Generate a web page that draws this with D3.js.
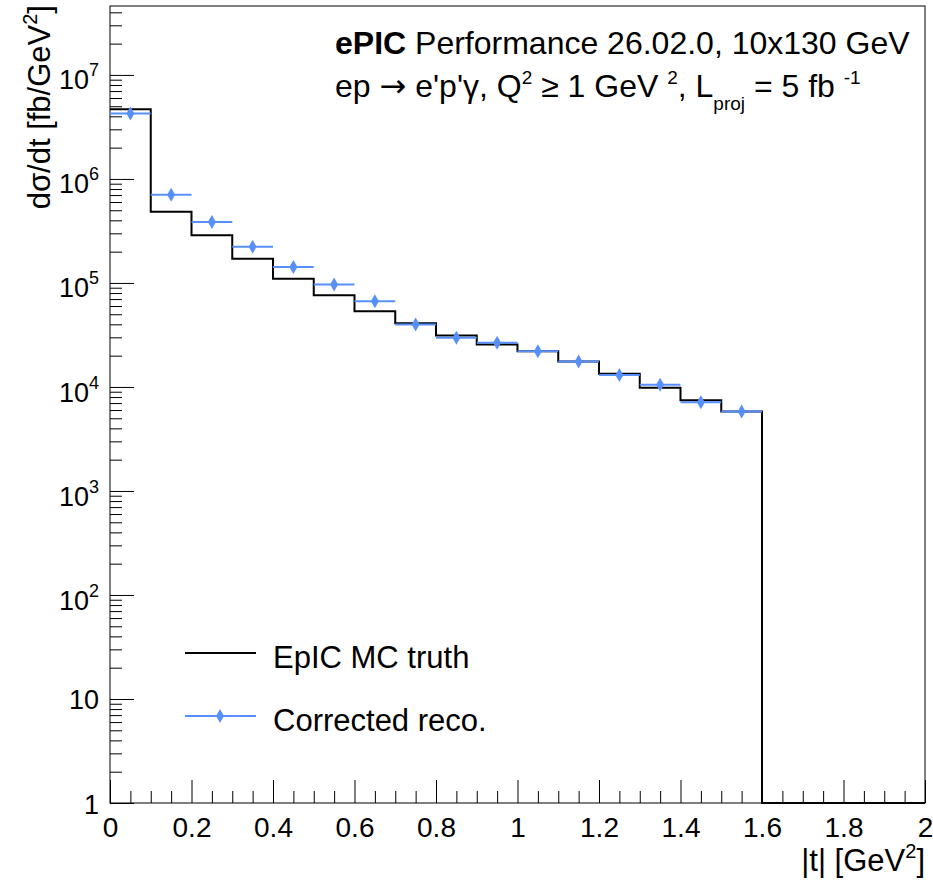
<!DOCTYPE html>
<html>
<head>
<meta charset="utf-8">
<script src="https://cdn.jsdelivr.net/npm/d3@7"></script>
<style>
  body { margin: 0; background: #fff; }
  svg { display: block; font-family: "Liberation Sans", Arial, sans-serif; }
</style>
</head>
<body>
<svg id="chart" width="933" height="882"></svg>
<script>
// bin edges in |t| (GeV^2)
const binEdges = [0, 0.1, 0.2, 0.3, 0.4, 0.5, 0.6, 0.7, 0.8, 0.9, 1.0, 1.1, 1.2, 1.3, 1.4, 1.5, 1.6];
// EpIC MC truth, dsigma/dt [fb/GeV^2]
const truthValues = [4.68e6, 4.84e5, 2.87e5, 1.71e5, 1.10e5, 7.6e4, 5.35e4, 4.1e4, 3.12e4, 2.56e4, 2.21e4, 1.76e4, 1.34e4, 9.8e3, 7.45e3, 5.8e3];
// corrected reco
const recoValues = [4.25e6, 7.06e5, 3.85e5, 2.23e5, 1.42e5, 9.67e4, 6.68e4, 3.98e4, 2.97e4, 2.66e4, 2.21e4, 1.76e4, 1.30e4, 1.05e4, 7.13e3, 5.8e3];

const xMajorTicks = [0, 0.2, 0.4, 0.6, 0.8, 1, 1.2, 1.4, 1.6, 1.8, 2];
const xMinorTicks = [0.05, 0.1, 0.15, 0.25, 0.3, 0.35, 0.45, 0.5, 0.55, 0.65, 0.7, 0.75, 0.85, 0.9, 0.95,
                     1.05, 1.1, 1.15, 1.25, 1.3, 1.35, 1.45, 1.5, 1.55, 1.65, 1.7, 1.75, 1.85, 1.9, 1.95];
const yMajorTicks = [1, 10, 1e2, 1e3, 1e4, 1e5, 1e6, 1e7];
const yMinorMultipliers = [2, 3, 4, 5, 6, 7, 8, 9];

const blue = "#5790fc";
const frameL = 110, frameR = 925, frameT = 6, frameB = 803;
const textSize = 31;

const svg = d3.select("#chart");

const x = d3.scaleLinear().domain([0, 2]).range([frameL, frameR]);
const y = d3.scaleLog().domain([1, 4.6e7]).range([frameB, frameT]);

// minor y ticks inside the domain
const yMinorTicks = [];
yMajorTicks.forEach(p => yMinorMultipliers.forEach(m => {
    if (p * m <= y.domain()[1]) yMinorTicks.push(p * m);
}));

// frame
svg.append("rect")
    .attr("x", frameL).attr("y", frameT)
    .attr("width", frameR - frameL).attr("height", frameB - frameT)
    .attr("fill", "none").attr("stroke", "#000").attr("stroke-width", 1);

// x axis, ticks point into the frame
const xMinor = svg.append("g").attr("transform", `translate(0,${frameB})`)
    .call(d3.axisBottom(x).tickValues(xMinorTicks).tickSizeInner(-12).tickSizeOuter(0).tickFormat(""));
const xMajor = svg.append("g").attr("transform", `translate(0,${frameB})`)
    .call(d3.axisBottom(x).tickValues(xMajorTicks).tickSizeInner(-23).tickSizeOuter(0)
        .tickPadding(14).tickFormat(d => d3.format("~g")(d)));

// y axis
const yMinor = svg.append("g").attr("transform", `translate(${frameL},0)`)
    .call(d3.axisLeft(y).tickValues(yMinorTicks).tickSizeInner(-12).tickSizeOuter(0).tickFormat(""));
const yMajor = svg.append("g").attr("transform", `translate(${frameL},0)`)
    .call(d3.axisLeft(y).tickValues(yMajorTicks).tickSizeInner(-24).tickSizeOuter(0)
        .tickPadding(11).tickFormat(""));

[xMinor, xMajor, yMinor, yMajor].forEach(g => {
    g.select(".domain").remove();
    g.selectAll(".tick line").attr("stroke", "#000").attr("stroke-width", 1);
});
xMajor.selectAll(".tick text").attr("font-size", 28).attr("fill", "#000")
    .attr("font-family", "Liberation Sans, Arial, sans-serif");

// y labels with exponents
yMajor.selectAll(".tick text").each(function(d) {
    const t = d3.select(this).attr("font-size", 27).attr("fill", "#000")
        .attr("font-family", "Liberation Sans, Arial, sans-serif");
    const p = Math.round(Math.log10(d));
    if (p < 2) {
        t.attr("dy", "0.37em").text(p === 0 ? "1" : "10");
    } else {
        t.attr("dy", "0.52em");
        t.append("tspan").text("10");
        t.append("tspan").attr("font-size", 18).attr("dy", -13).text(p);
    }
});

// truth histogram (steps), empty bins beyond 1.6 sit on the frame
let path = `M${x(binEdges[0])},${y(truthValues[0])}`;
truthValues.forEach((v, i) => {
    path += `V${y(v)}H${x(binEdges[i + 1])}`;
});
path += `V${frameB}H${x(2)}`;
svg.append("path").attr("d", path)
    .attr("fill", "none").attr("stroke", "#000").attr("stroke-width", 2);

// corrected reco: bin width bars and diamonds
const reco = svg.append("g");
recoValues.forEach((v, i) => {
    const x0 = x(binEdges[i]), x1 = x(binEdges[i + 1]), yc = y(v);
    const xc = (x0 + x1) / 2;
    reco.append("line").attr("x1", x0).attr("x2", x1).attr("y1", yc).attr("y2", yc)
        .attr("stroke", blue).attr("stroke-width", 2);
    reco.append("path")
        .attr("d", `M${xc},${yc - 7}L${xc + 4},${yc}L${xc},${yc + 7}L${xc - 4},${yc}Z`)
        .attr("fill", blue);
});

// axis titles
const yt = svg.append("text")
    .attr("transform", `translate(50,${frameT - 1}) rotate(-90)`)
    .attr("text-anchor", "end").attr("font-size", textSize);
yt.append("tspan").text("dσ/dt [fb/GeV");
yt.append("tspan").attr("font-size", 20).attr("dy", -13).text("2");
yt.append("tspan").attr("dy", 13).text("]");

const xt = svg.append("text")
    .attr("x", frameR).attr("y", 871)
    .attr("text-anchor", "end").attr("font-size", textSize);
xt.append("tspan").text("|t| [GeV");
xt.append("tspan").attr("font-size", 20).attr("dy", -13).text("2");
xt.append("tspan").attr("dy", 13).text("]");

// header text
const headSize = 32;
const h1 = svg.append("text").attr("x", 335).attr("y", 54).attr("font-size", headSize);
h1.append("tspan").attr("font-weight", "bold").text("ePIC");
h1.append("tspan").text(" Performance 26.02.0, 10x130 GeV");

function richText(sel, pieces) {
    let shift = 0;
    pieces.forEach(p => {
        const target = p.sup ? -13 : p.sub ? 13 : 0;
        const ts = sel.append("tspan")
            .attr("font-size", p.sup || p.sub ? 19 : null)
            .attr("dy", target - shift)
            .text(p.t);
        if (p.font) ts.attr("font-family", p.font);
        shift = target;
    });
}
const h2 = svg.append("text").attr("x", 335).attr("y", 97).attr("font-size", headSize);
richText(h2, [
    {t: "ep "}, {t: "\u2192", font: "DejaVu Sans"}, {t: " e'p'\u03b3, Q"}, {t: "2", sup: true},
    {t: " \u2265 1 GeV "}, {t: "2", sup: true},
    {t: ", L"}, {t: "proj", sub: true},
    {t: " = 5 fb "}, {t: "-1", sup: true}
]);

// legend
const legend = svg.append("g");
legend.append("line").attr("x1", 185).attr("x2", 256).attr("y1", 653).attr("y2", 653)
    .attr("stroke", "#000").attr("stroke-width", 2);
legend.append("text").attr("x", 273).attr("y", 668).attr("font-size", textSize).text("EpIC MC truth");
legend.append("line").attr("x1", 185).attr("x2", 256).attr("y1", 716).attr("y2", 716)
    .attr("stroke", blue).attr("stroke-width", 2);
legend.append("path").attr("d", "M220,709L224,716L220,723L216,716Z").attr("fill", blue);
legend.append("text").attr("x", 273).attr("y", 731).attr("font-size", textSize).text("Corrected reco.");
</script>
</body>
</html>
